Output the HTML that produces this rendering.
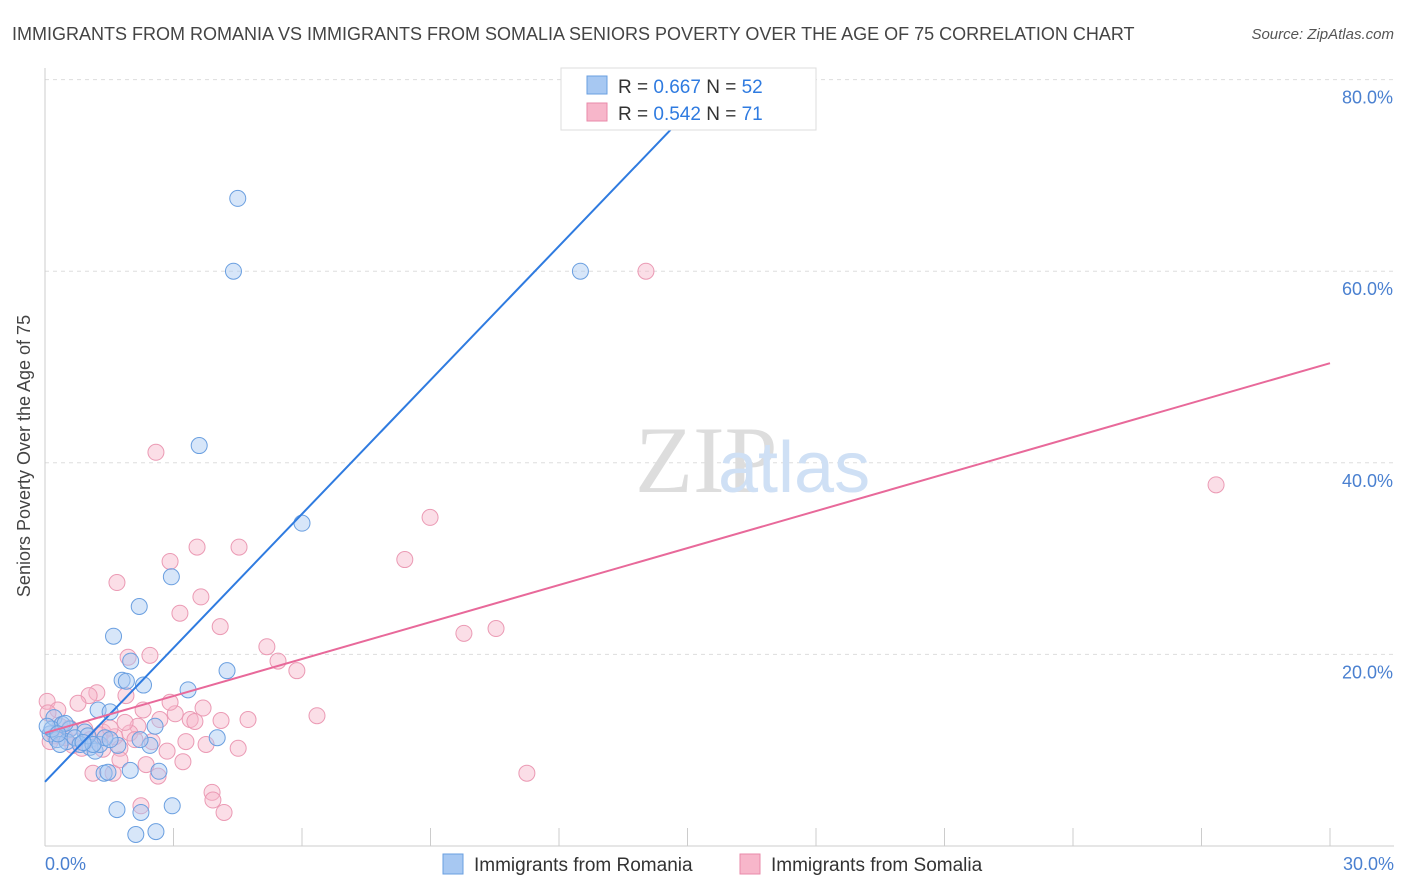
<!DOCTYPE html>
<html><head><meta charset="utf-8"><style>
body{margin:0;background:#fff;font-family:"Liberation Sans",sans-serif;}
svg{display:block}
</style></head><body>
<svg width="1406" height="892" xmlns="http://www.w3.org/2000/svg">
<text x="12" y="40" font-size="18" fill="#444">IMMIGRANTS FROM ROMANIA VS IMMIGRANTS FROM SOMALIA SENIORS POVERTY OVER THE AGE OF 75 CORRELATION CHART</text>
<text x="1394" y="39" font-size="15" fill="#555" font-style="italic" text-anchor="end">Source: ZipAtlas.com</text>
<g id="grid"></g>
<text x="635" y="492" font-size="95" fill="#ddd" font-family="Liberation Serif,serif">ZIP</text>
<text x="718" y="492" font-size="72" fill="#cfe0f5">atlas</text>
<line x1="45" y1="68" x2="45" y2="846" stroke="#ccc"/>
<line x1="45" y1="846" x2="1394" y2="846" stroke="#ccc"/>
<g id="ticks"></g>
<g id="points"></g>
<g id="lines"></g>
<text x="30" y="456" font-size="18" fill="#444" text-anchor="middle" transform="rotate(-90 30 456)">Seniors Poverty Over the Age of 75</text>
<text x="45" y="870" font-size="18" fill="#4a80d0">0.0%</text>
<text x="1394" y="870" font-size="18" fill="#4a80d0" text-anchor="end">30.0%</text>
<g>
<rect x="561" y="68" width="255" height="62" fill="#fff" stroke="#ddd"/>
<rect x="587" y="76" width="20" height="18" fill="#a7c8f2" stroke="#6a9fe0"/>
<rect x="587" y="103" width="20" height="18" fill="#f7b6ca" stroke="#e98aa9"/>
<text x="618" y="93" font-size="19" fill="#333">R = <tspan fill="#2f7be0">0.667</tspan>   N = <tspan fill="#2f7be0">52</tspan></text>
<text x="618" y="120" font-size="19" fill="#333">R = <tspan fill="#2f7be0">0.542</tspan>   N =  <tspan fill="#2f7be0">71</tspan></text>
</g>
<g>
<rect x="443" y="854" width="20" height="20" fill="#a7c8f2" stroke="#6a9fe0"/>
<text x="474" y="871" font-size="19" fill="#333">Immigrants from Romania</text>
<rect x="740" y="854" width="20" height="20" fill="#f7b6ca" stroke="#e98aa9"/>
<text x="771" y="871" font-size="19" fill="#333">Immigrants from Somalia</text>
</g>
</svg>
<script>
const yTicks=[20,40,60,80];
const xTicks=[0,3,6,9,12,15,18,21,24,27,30];
const romaniaX=[4.5,4.4,12.5,3.6,6,2.95,2.2,1.6,2.0,4.25,1.8,1.9,2.3,3.34,1.24,1.52,0.21,0.4,0.58,0.93,0.12,0.28,0.51,0.7,1.05,1.17,1.7,2.45,2.57,4.02,1.38,1.47,1.99,2.66,1.68,2.24,2.97,2.12,2.59,0.35,0.82,1.28,0.16,0.47,1.0,1.4,1.12,0.05,0.3,0.89,1.52,2.22];
const romaniaY=[67.6,60,60,41.8,33.7,28.1,25,21.9,19.3,18.3,17.3,17.2,16.8,16.3,14.2,14,13.4,12.7,12.2,11.9,11.7,11.1,10.9,11.3,10.3,9.9,10.5,10.5,12.5,11.3,7.6,7.7,7.9,7.8,3.8,3.5,4.2,1.2,1.5,10.6,10.6,10.6,12.2,12.8,11.5,11.3,10.6,12.5,11.7,10.8,11.1,11.1];
const somaliaX=[14.03,2.59,27.34,8.99,8.4,3.55,4.53,2.92,1.68,3.15,3.64,4.09,9.78,10.53,5.18,5.44,5.88,1.94,2.45,1.21,1.03,0.77,0.05,1.89,2.29,3.04,3.39,3.69,4.11,4.74,6.35,2.17,1.98,1.35,0.93,0.35,0.23,2.5,2.85,3.29,3.76,4.51,1.75,1.35,2.1,2.36,3.22,1.12,1.59,2.64,11.25,3.9,3.92,4.18,2.24,0.65,0.47,0.12,1.28,1.63,1.05,2.68,3.5,1.52,0.58,1.87,0.86,0.3,0.07,1.75,2.92];
const somaliaY=[60,41.1,37.7,34.3,29.9,31.2,31.2,29.7,27.5,24.3,26,22.9,22.2,22.7,20.8,19.3,18.3,19.7,19.9,16,15.7,14.9,15.1,15.7,14.2,13.8,13.2,14.4,13.1,13.2,13.6,12.5,11.8,11.9,12.2,12.5,11.5,10.9,9.9,10.9,10.6,10.2,10.2,10.1,11.1,8.5,8.8,7.6,7.6,7.3,7.6,5.6,4.8,3.5,4.2,10.5,11.3,10.9,11.6,11.4,11.1,13.2,13,12.3,12.3,12.9,10.2,14.2,13.9,9.0,15.0];
const romaniaFit=[6.7,76.6];
const somaliaFit=[11.8,50.4];
const NS="http://www.w3.org/2000/svg";
const xs=v=>45+v*1285/30;
const ys=v=>846-v*9.58;
function mk(tag,attrs,parent){const e=document.createElementNS(NS,tag);for(const k in attrs)e.setAttribute(k,attrs[k]);parent.appendChild(e);return e;}
const grid=document.getElementById('grid');
yTicks.forEach(t=>{
 const l=mk('line',{x1:45,x2:1394,y1:ys(t),y2:ys(t),stroke:'#ddd','stroke-dasharray':'4,4'},grid);
 
 
 const tx=mk('text',{x:1393,y:ys(t)+24,'font-size':18,fill:'#4a80d0','text-anchor':'end'},grid);
 tx.textContent=t.toFixed(1)+'%';
 
 
});
const tk=document.getElementById('ticks');
xTicks.forEach(t=>{
 const l=mk('line',{x1:xs(t),x2:xs(t),y1:828,y2:846,stroke:'#ccc'},tk);
 
 
});
const pts=document.getElementById('points');
somaliaX.forEach((x,i)=>{
 const c=mk('circle',{cx:xs(x),cy:ys(somaliaY[i]),r:8,fill:'rgba(247,182,202,0.45)',stroke:'#eb9ab4','stroke-width':1},pts);
 
 
});
romaniaX.forEach((x,i)=>{
 const c=mk('circle',{cx:xs(x),cy:ys(romaniaY[i]),r:8,fill:'rgba(167,200,242,0.45)',stroke:'#6a9fe0','stroke-width':1},pts);
 
 
});
const ln=document.getElementById('lines');
const l1=mk('line',{x1:xs(0),y1:ys(romaniaFit[0]),x2:xs(15),y2:ys(romaniaFit[1]),stroke:'#2f7be0','stroke-width':2},ln);


const l2=mk('line',{x1:xs(0),y1:ys(somaliaFit[0]),x2:xs(30),y2:ys(somaliaFit[1]),stroke:'#e8699a','stroke-width':2},ln);


</script>
</body></html>
